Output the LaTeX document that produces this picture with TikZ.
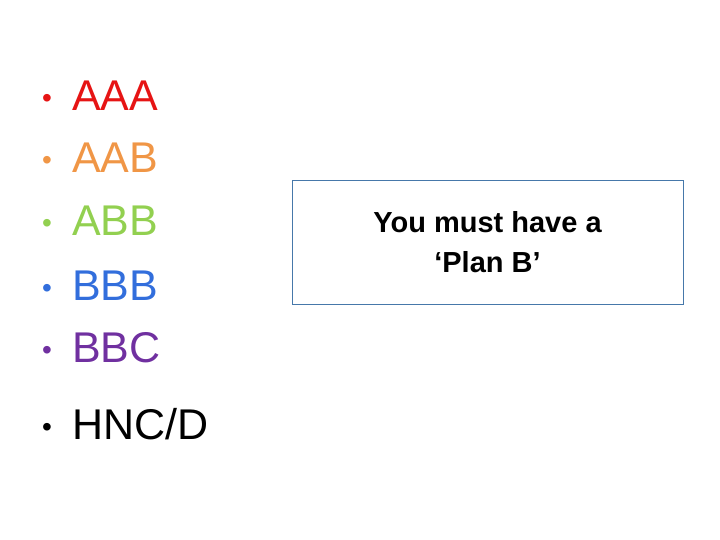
\documentclass[tikz,border=0pt]{standalone}
\usepackage{fontspec}
\setmainfont{Liberation Sans}
\begin{document}
\begin{tikzpicture}[x=1pt,y=-1pt,
  item/.style={anchor=base west,inner sep=0pt,font=\fontsize{43}{43}\selectfont},
  bul/.style={anchor=base west,inner sep=0pt,font=\fontsize{28}{28}\selectfont}]
\useasboundingbox (0,0) rectangle (720,540);
\definecolor{cr}{RGB}{230,20,20}
\definecolor{co}{RGB}{240,150,70}
\definecolor{cg}{RGB}{146,208,80}
\definecolor{cb}{RGB}{50,110,220}
\definecolor{cp}{RGB}{112,48,160}
\definecolor{bx}{RGB}{70,120,170}
\foreach \n/\t/\c/\y in {a/AAA/cr/111, b/AAB/co/173, c/ABB/cg/236, d/BBB/cb/300, e/BBC/cp/362, f/HNC\slash D/black/439}{
  \node[bul,text=\c] (b\n) at (42,\y-3) {•};
  \node[item,text=\c] (t\n) at (72,\y) {\t};
}
\node[draw=bx,line width=0.8pt,minimum width=391,minimum height=124,inner sep=0pt,
  align=center,font=\bfseries\fontsize{29}{40}\selectfont] (box) at (487.5,242)
  {You must have a\\‘Plan B’};
\end{tikzpicture}
\end{document}
